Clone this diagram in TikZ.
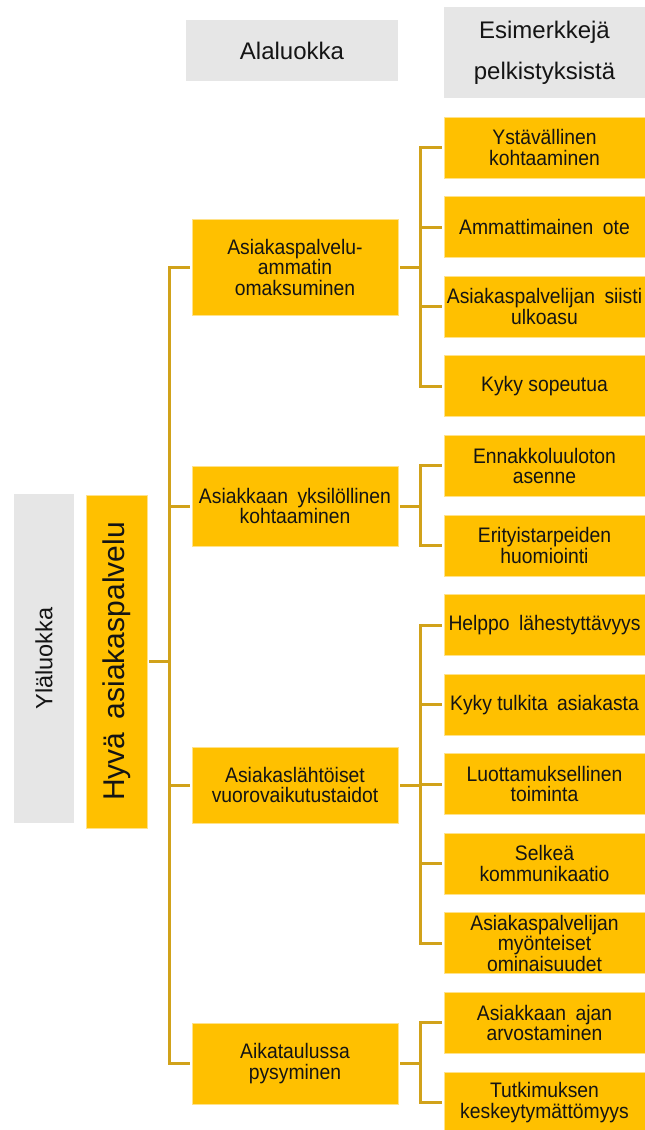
\documentclass[tikz,border=0pt]{standalone}
\usepackage{fontspec}
\setmainfont{Liberation Sans}
\newfontfamily\condf{Liberation Sans}[FakeStretch=0.92]
\definecolor{gold}{HTML}{FFC000}
\definecolor{goldedge}{HTML}{FFE28A}
\definecolor{connline}{HTML}{D1A21A}
\definecolor{hdrgray}{HTML}{E6E6E6}
\definecolor{txt}{HTML}{141414}
\newcommand{\wsp}{\hspace{0.45em}}
\begin{document}
\begin{tikzpicture}[x=1pt,y=-1pt,
  hdrbox/.style={fill=hdrgray, inner sep=0pt, align=center, text=txt,
    font=\fontsize{24}{41}\selectfont},
  topbox/.style={fill=gold, draw=goldedge, line width=0.8pt, inner sep=0pt,
    align=center, text=txt, outer sep=2pt},
  ltwo/.style={fill=gold, draw=goldedge, line width=0.8pt, inner sep=0pt,
    minimum width=206pt, align=center, text=txt, outer sep=2pt,
    font=\condf\fontsize{21}{20.5}\selectfont},
  lthree/.style={fill=gold, draw=goldedge, line width=0.8pt, inner sep=0pt,
    minimum width=201pt, minimum height=61pt, align=center, text=txt, outer sep=2pt,
    font=\condf\fontsize{21}{20.5}\selectfont},
  conn/.style={draw=connline, line width=3pt}
]
\useasboundingbox (0,0) rectangle (645,1130);
\fill[white] (0,0) rectangle (645,1130);

% headers
\node[hdrbox, minimum width=212pt, minimum height=61pt] (hA) at (292,50.5) {Alaluokka};
\node[hdrbox, minimum width=201pt, minimum height=91pt] (hE) at (544.5,52.5) {Esimerkkejä\\pelkistyksistä};
\node[hdrbox, rotate=90, minimum width=329pt, minimum height=60pt,
  font=\fontsize{23.5}{24}\selectfont] (hY) at (44,658.5) {Yläluokka};

% root
\node[topbox, rotate=90, minimum width=333pt, minimum height=61pt,
  font=\fontsize{30}{31}\selectfont] (hyva) at (116.5,661.5) {Hyvä\wsp asiakaspalvelu};

% level 2
\node[ltwo, minimum height=96pt] (l2a) at (295,267) {Asiakaspalvelu-\\ammatin\\omaksuminen};
\node[ltwo, minimum height=80pt] (l2b) at (295,506) {Asiakkaan\wsp yksilöllinen\\kohtaaminen};
\node[ltwo, minimum height=76pt] (l2c) at (295,785) {Asiakaslähtöiset\\vuorovaikutustaidot};
\node[ltwo, minimum height=81pt] (l2d) at (295,1063.5) {Aikataulussa\\pysyminen};

% level 3
\node[lthree] (c0) at (544.5,147.5) {Ystävällinen\\kohtaaminen};
\node[lthree] (c1) at (544.5,227.1) {Ammattimainen\wsp ote};
\node[lthree] (c2) at (544.5,306.7) {Asiakaspalvelijan\wsp siisti\\ulkoasu};
\node[lthree] (c3) at (544.5,386.2) {Kyky sopeutua};
\node[lthree] (c4) at (544.5,465.8) {Ennakkoluuloton\\asenne};
\node[lthree] (c5) at (544.5,545.4) {Erityistarpeiden\\huomiointi};
\node[lthree] (c6) at (544.5,625.0) {Helppo\wsp lähestyttävyys};
\node[lthree] (c7) at (544.5,704.6) {Kyky tulkita\wsp asiakasta};
\node[lthree] (c8) at (544.5,784.1) {Luottamuksellinen\\toiminta};
\node[lthree] (c9) at (544.5,863.7) {Selkeä\\kommunikaatio};
\node[lthree] (c10) at (544.5,943.3) {Asiakaspalvelijan\\myönteiset\\ominaisuudet};
\node[lthree] (c11) at (544.5,1022.9) {Asiakkaan\wsp ajan\\arvostaminen};
\node[lthree] (c12) at (544.5,1102.5) {Tutkimuksen\\keskeytymättömyys};

% junction points
\path (hyva.south) ++(20,0) coordinate (tr);
\path (l2a.east) ++(20,0) coordinate (jA);
\path (l2b.east) ++(20,0) coordinate (jB);
\path (l2c.east) ++(20,0) coordinate (jC);
\path (l2d.east) ++(20,0) coordinate (jD);

% connectors
\draw[conn] (hyva.south) -- (tr);
\foreach \c in {l2a,l2b,l2c,l2d} \draw[conn] (tr) |- (\c.west);
\draw[conn] (l2a.east) -- (jA);
\foreach \c in {c0,c1,c2,c3} \draw[conn] (jA) |- (\c.west);
\draw[conn] (l2b.east) -- (jB);
\foreach \c in {c4,c5} \draw[conn] (jB) |- (\c.west);
\draw[conn] (l2c.east) -- (jC);
\foreach \c in {c6,c7,c8,c9,c10} \draw[conn] (jC) |- (\c.west);
\draw[conn] (l2d.east) -- (jD);
\foreach \c in {c11,c12} \draw[conn] (jD) |- (\c.west);
\end{tikzpicture}
\end{document}
